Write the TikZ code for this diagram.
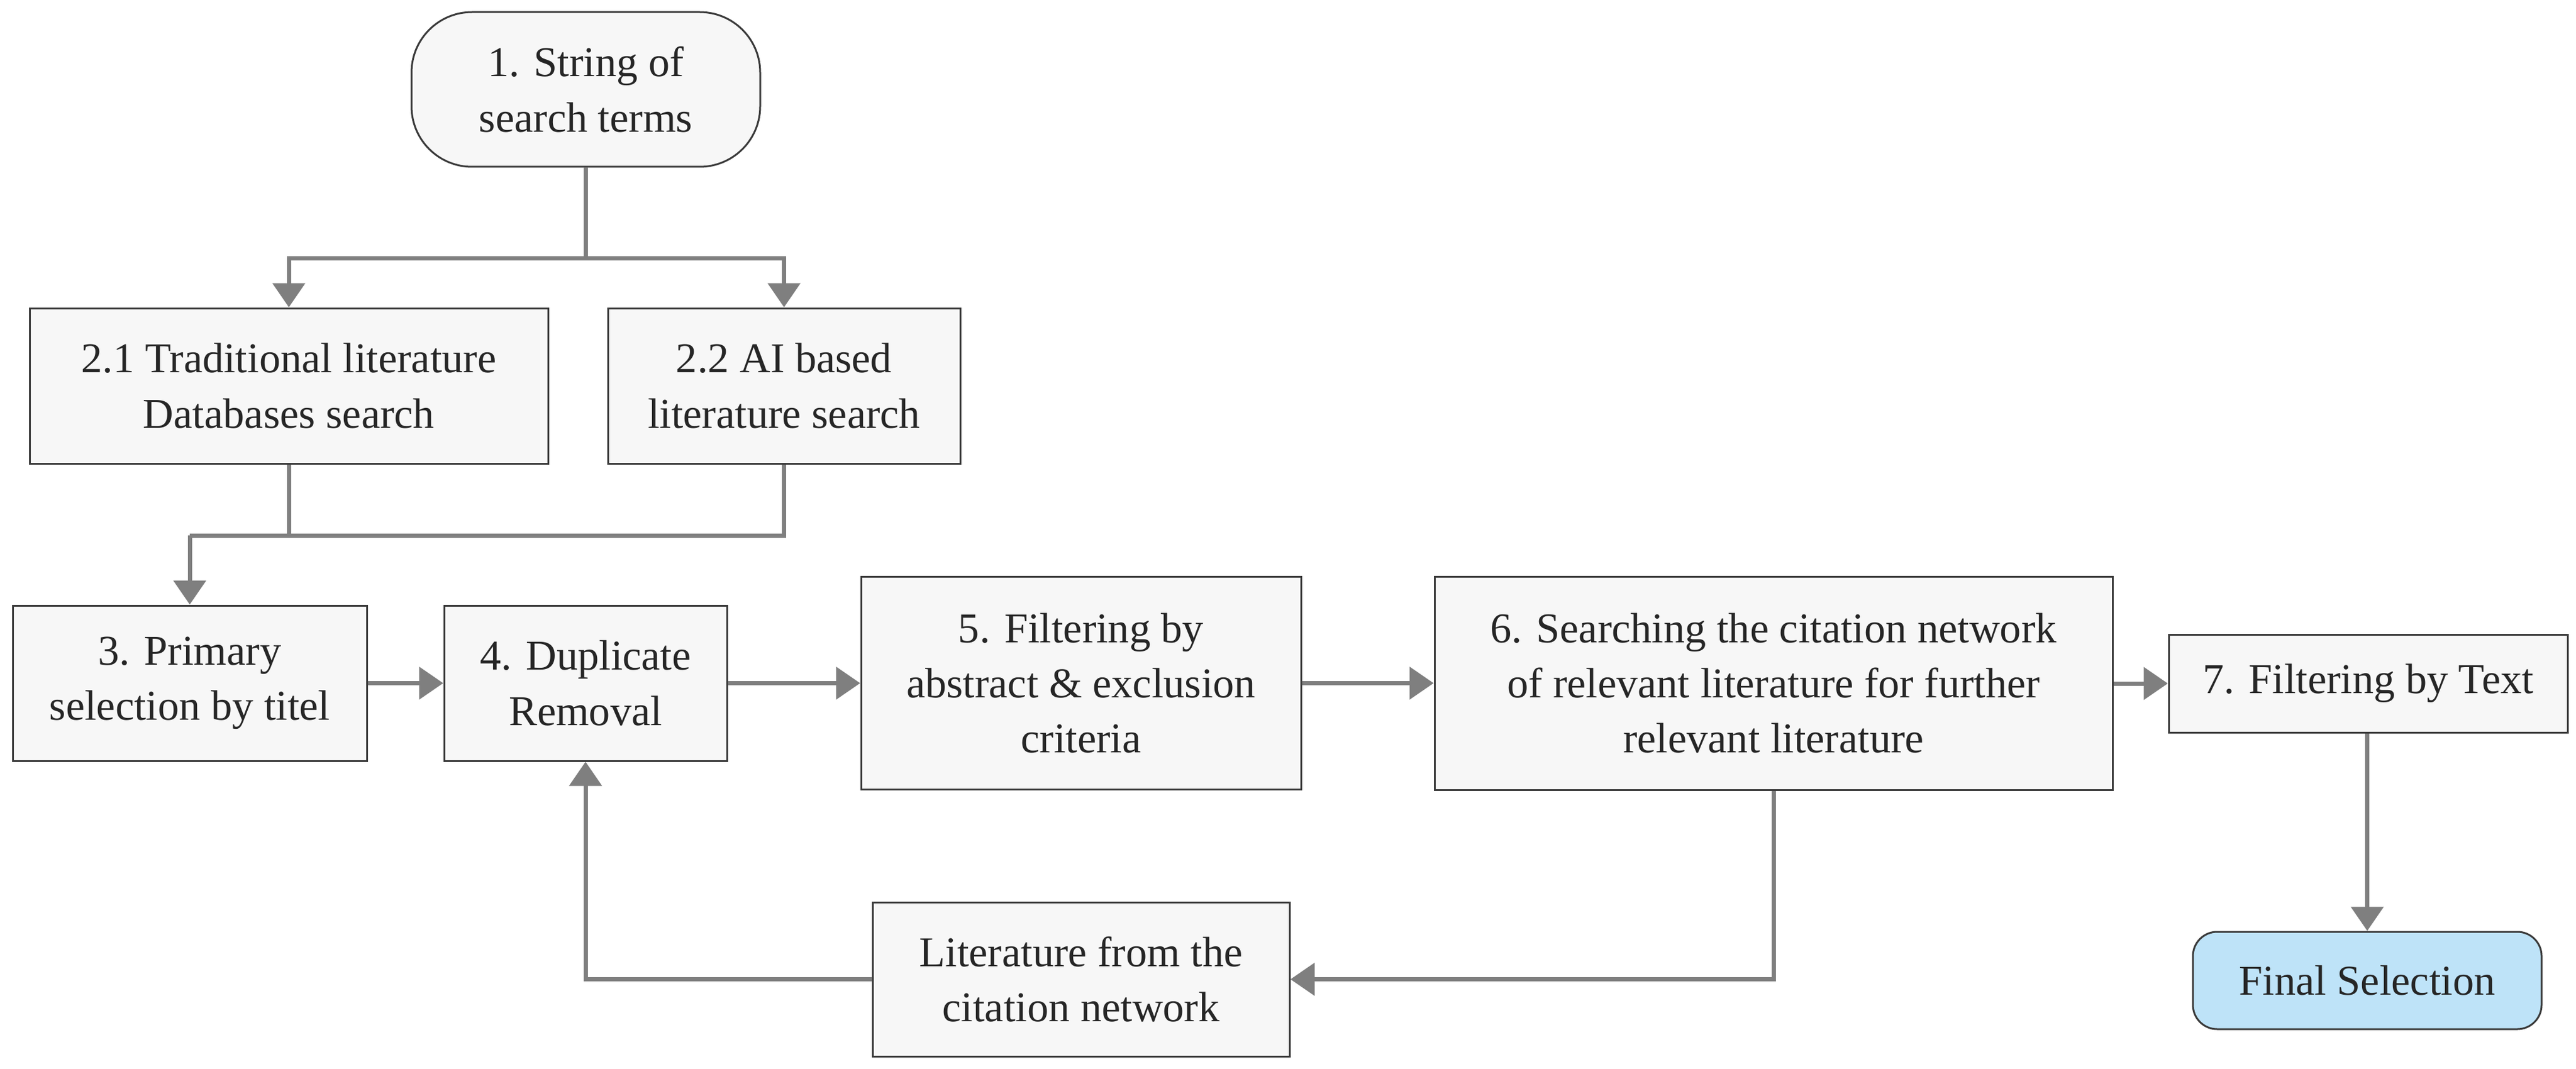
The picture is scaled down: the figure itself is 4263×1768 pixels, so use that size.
\documentclass[tikz,border=0pt]{standalone}
\usepackage{fontspec}
\setmainfont{Liberation Serif}
\usetikzlibrary{arrows.meta}
\definecolor{boxfill}{HTML}{F7F7F7}
\definecolor{finfill}{HTML}{BEE3F8}
\definecolor{edge}{HTML}{3A3A3A}
\definecolor{conn}{HTML}{7F7F7F}
\begin{document}
\begin{tikzpicture}[x=0.1mm,y=-0.1mm,
  box/.style={draw=edge,line width=0.3mm,fill=boxfill,align=center,inner sep=0pt,
    text=black!85,font=\fontsize{20}{26}\selectfont},
  line/.style={draw=conn,line width=0.7mm},
  arr/.style={line,-{Triangle[length=4mm,width=5.3mm]}}]
\useasboundingbox (0,0) rectangle (4263,1768);
\node[box,rounded corners=10mm,minimum width=57.7mm,minimum height=25.6mm] (b1) at (969.5,148) {1. String of\\search terms};
\node[box,minimum width=85.8mm,minimum height=25.7mm] (b21) at (478,638.5) {2.1 Traditional literature\\Databases search};
\node[box,minimum width=58.3mm,minimum height=25.7mm] (b22) at (1297.5,638.5) {2.2 AI based\\literature search};
\node[box,minimum width=58.6mm,minimum height=25.7mm] (b3) at (314,1130.5) {3. Primary\\selection by titel};
\node[box,minimum width=46.8mm,minimum height=25.7mm] (b4) at (969,1130.5) {4. Duplicate\\Removal};
\node[box,minimum width=72.8mm,minimum height=35.2mm] (b5) at (1789,1130.5) {5. Filtering by\\abstract \& exclusion\\criteria};
\node[box,minimum width=112.2mm,minimum height=35.3mm] (b6) at (2935,1130.5) {6. Searching the citation network\\of relevant literature for further\\relevant literature};
\node[box,minimum width=66mm,minimum height=16.2mm] (b7) at (3919,1131) {7. Filtering by Text};
\node[box,fill=finfill,rounded corners=4mm,minimum width=57.7mm,minimum height=16.1mm] (fin) at (3917.5,1622.5) {Final Selection};
\node[box,minimum width=69mm,minimum height=25.5mm] (lit) at (1789,1620.5) {Literature from the\\citation network};
\coordinate (split) at (969.5,427);
\coordinate (merge) at (314,886);
\draw[line] (b1.south) -- (split);
\draw[arr] (split) -| (b21.north);
\draw[arr] (split) -| (b22.north);
\draw[line] (b21.south) |- (merge);
\draw[line] (b22.south) |- (merge);
\draw[arr] (merge) -- (b3.north);
\draw[arr] (b3) -- (b4);
\draw[arr] (b4) -- (b5);
\draw[arr] (b5) -- (b6);
\draw[arr] (b6.east |- b7) -- (b7.west);
\draw[arr] (b7.south -| fin.north) -- (fin.north);
\draw[arr] (b6.south) |- (lit.east);
\draw[arr] (lit.west) -| (b4.south);
\end{tikzpicture}
\end{document}
